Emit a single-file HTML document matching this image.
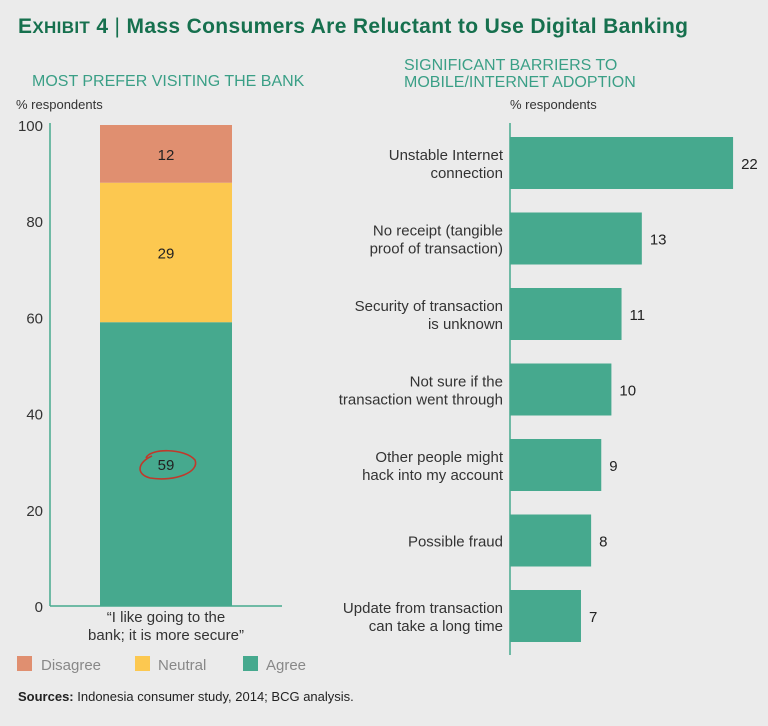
<!DOCTYPE html>
<html><head><meta charset="utf-8"><style>
html,body{margin:0;padding:0;background:#ebebeb;}
body{width:768px;height:721px;overflow:hidden;font-family:"Liberation Sans",sans-serif;}
</style></head><body>
<svg width="768" height="721" xmlns="http://www.w3.org/2000/svg" font-family="Liberation Sans, sans-serif">
<rect width="768" height="721" fill="#ebebeb"/>
<text x="18" y="33" font-size="21" font-weight="bold" fill="#16704e" textLength="670" lengthAdjust="spacing">E<tspan font-size="17">XHIBIT</tspan> 4 <tspan font-weight="normal">|</tspan> Mass Consumers Are Reluctant to Use Digital Banking</text>
<text x="32" y="86" font-size="16" fill="#3a9f86">MOST PREFER VISITING THE BANK</text>
<text x="16" y="109" font-size="13" fill="#333">% respondents</text>
<text x="404" y="70" font-size="16" fill="#3a9f86">SIGNIFICANT BARRIERS TO</text>
<text x="404" y="87" font-size="16" fill="#3a9f86">MOBILE/INTERNET ADOPTION</text>
<text x="510" y="109" font-size="13" fill="#333">% respondents</text>
<g id="left"></g>
<g id="right"></g>
<path d="M146,458 C150,448 185,448 195,460 C200,472 175,482 150,478 C135,474 138,462 152,456" fill="none" stroke="#c0392b" stroke-width="1.6"/>
<text x="166" y="622" font-size="15" fill="#333" text-anchor="middle">“I like going to the</text>
<text x="166" y="640" font-size="15" fill="#333" text-anchor="middle">bank; it is more secure”</text>
<g>
<rect x="17" y="656" width="15" height="15" fill="#e08f70"/>
<text x="41" y="670" font-size="15" fill="#888">Disagree</text>
<rect x="135" y="656" width="15" height="15" fill="#fcc850"/>
<text x="158" y="670" font-size="15" fill="#888">Neutral</text>
<rect x="243" y="656" width="15" height="15" fill="#46a98e"/>
<text x="266" y="670" font-size="15" fill="#888">Agree</text>
</g>
<text x="18" y="701" font-size="13" fill="#222"><tspan font-weight="bold">Sources:</tspan> Indonesia consumer study, 2014; BCG analysis.</text>
</svg>
<script>
const stackSegments=['Agree','Neutral','Disagree'];
const stackValues=[59,29,12];
const stackColors=['#46a98e','#fcc850','#e08f70'];
const yTicks=[0,20,40,60,80,100];
const barriers=[['Unstable Internet','connection'],['No receipt (tangible','proof of transaction)'],['Security of transaction','is unknown'],['Not sure if the','transaction went through'],['Other people might','hack into my account'],['Possible fraud'],['Update from transaction','can take a long time']];
const barrierValues=[22,13,11,10,9,8,7];
const NS='http://www.w3.org/2000/svg';
function mk(t,a,p){const e=document.createElementNS(NS,t);for(const k in a)e.setAttribute(k,a[k]);p.appendChild(e);return e;}
const L=document.getElementById('left');
const y=v=>606-v*4.81;
mk('line',{x1:50,y1:123,x2:50,y2:606,stroke:'#46a98e','stroke-width':1.5},L);
mk('line',{x1:50,y1:606,x2:282,y2:606,stroke:'#46a98e','stroke-width':1.5},L);
yTicks.forEach(t=>{const e=mk('text',{x:43,y:y(t)+6,'font-size':15,fill:'#333','text-anchor':'end'},L);e.textContent=t;

});
let acc=0;
stackValues.forEach((v,i)=>{const r=mk('rect',{x:100,y:y(acc+v),width:132,height:y(acc)-y(acc+v),fill:stackColors[i]},L);


const t=mk('text',{x:166,y:(y(acc)+y(acc+v))/2+6,'font-size':15,fill:'#222','text-anchor':'middle'},L);t.textContent=v;


acc+=v;});
const R=document.getElementById('right');
const ax=510,sc=10.14;
mk('line',{x1:ax,y1:123,x2:ax,y2:655,stroke:'#46a98e','stroke-width':1.5},R);
barrierValues.forEach((v,i)=>{const cy=163+i*75.5;
const r=mk('rect',{x:ax,y:cy-26,width:v*sc,height:52,fill:'#46a98e'},R);


const t=mk('text',{x:ax+v*sc+8,y:cy+6,'font-size':15,fill:'#222'},R);t.textContent=v;


const lines=barriers[i];lines.forEach((ln,j)=>{const ly=cy+6+(j-(lines.length-1)/2)*18;
const l=mk('text',{x:503,y:ly,'font-size':15,fill:'#333','text-anchor':'end'},R);l.textContent=ln;

});});
</script>
</body></html>
